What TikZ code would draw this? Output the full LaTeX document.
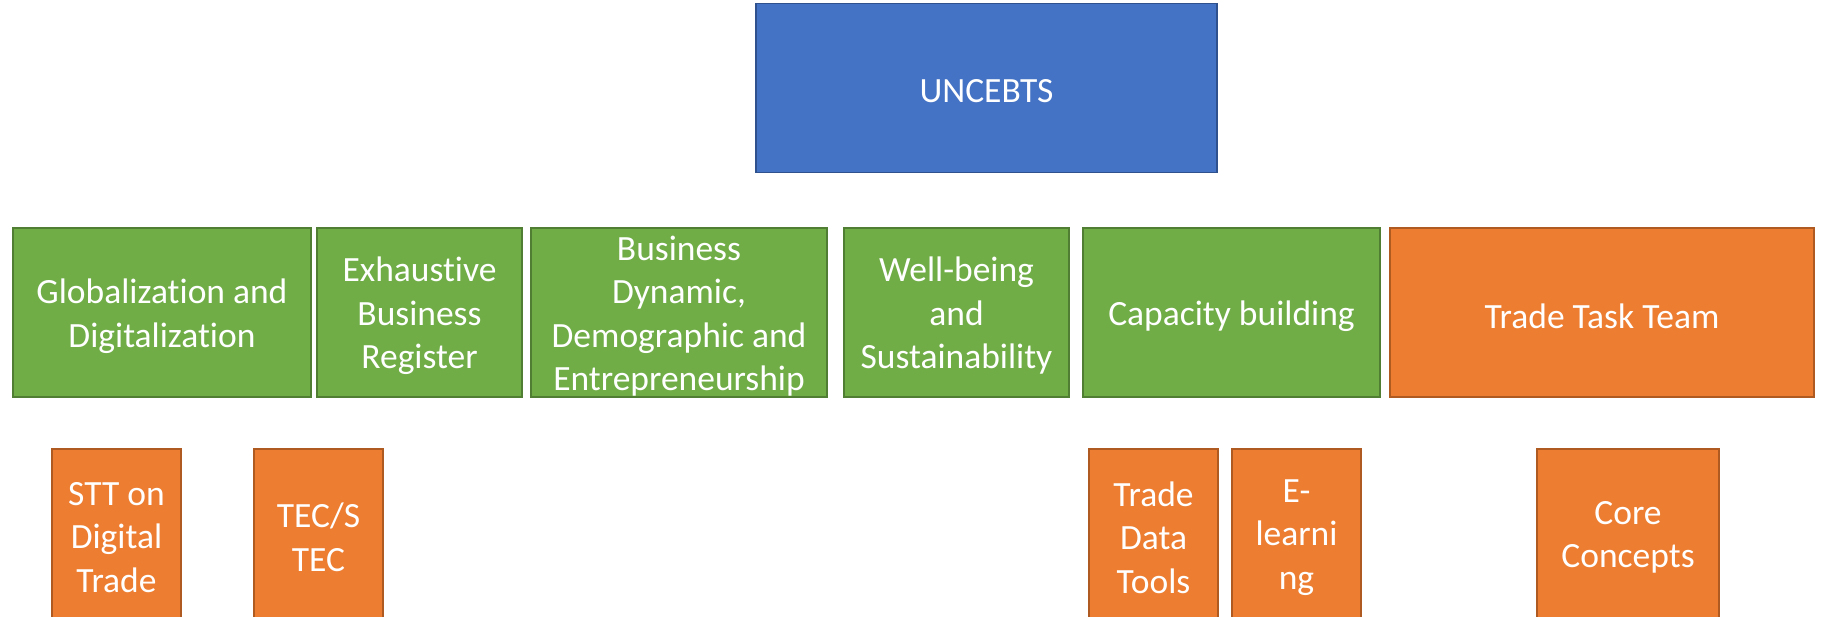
\documentclass[tikz,border=0pt]{standalone}
\usepackage{fontspec}
\setmainfont{Carlito}[Ligatures=NoCommon]
\definecolor{cblue}{HTML}{4472C4}
\definecolor{cbluedk}{HTML}{2F528F}
\definecolor{cgreen}{HTML}{70AD47}
\definecolor{cgreendk}{HTML}{507E32}
\definecolor{corange}{HTML}{ED7D31}
\definecolor{corangedk}{HTML}{AE5A21}
\begin{document}
\begin{tikzpicture}[x=1pt,y=-1pt,
  boxbase/.style={rectangle, inner sep=0pt, outer sep=0pt, line width=1.2pt},
  bluebox/.style={boxbase, fill=cblue, draw=cbluedk},
  greenbox/.style={boxbase, fill=cgreen, draw=cgreendk},
  orangebox/.style={boxbase, fill=corange, draw=corangedk},
  boxtext/.style={inner sep=0pt, align=center, text=white, yshift=-3.5pt,
    font=\fontsize{35.5}{43.5}\selectfont}]
\useasboundingbox (0,0) rectangle (1822,617);
\begin{scope}
\clip (0,0) rectangle (1822,617);
\node[bluebox, minimum width=461pt, minimum height=169pt] (top) at (986.5,88) {};
\node[boxtext] (top-t) at (top.center) {UNCEBTS};
% green row
\node[greenbox, minimum width=298pt, minimum height=169pt] (glob) at (162,312.5) {};
\node[boxtext] (glob-t) at (glob.center) {Globalization and\\Digitalization};
\node[greenbox, minimum width=205pt, minimum height=169pt] (exh) at (419.5,312.5) {};
\node[boxtext] (exh-t) at (exh.center) {Exhaustive\\Business\\Register};
\node[greenbox, minimum width=296pt, minimum height=169pt] (bdyn) at (679,312.5) {};
\node[boxtext] (bdyn-t) at (bdyn.center) {Business\\Dynamic,\\Demographic and\\Entrepreneurship};
\node[greenbox, minimum width=225pt, minimum height=169pt] (well) at (956.5,312.5) {};
\node[boxtext] (well-t) at (well.center) {Well-being\\and\\Sustainability};
\node[greenbox, minimum width=297pt, minimum height=169pt] (cap) at (1231.5,312.5) {};
\node[boxtext] (cap-t) at (cap.center) {Capacity building};
\node[orangebox, minimum width=424pt, minimum height=169pt] (ttt) at (1602,312.5) {};
\node[boxtext] (ttt-t) at (ttt.center) {Trade Task Team};
% bottom row
\node[orangebox, minimum width=129pt, minimum height=170pt] (stt) at (116.5,534) {};
\node[boxtext] (stt-t) at (stt.center) {STT on\\Digital\\Trade};
\node[orangebox, minimum width=129pt, minimum height=170pt] (tec) at (318.5,534) {};
\node[boxtext] (tec-t) at (tec.center) {TEC/S\\TEC};
\node[orangebox, minimum width=129pt, minimum height=170pt] (tdt) at (1153.5,534) {};
\node[boxtext] (tdt-t) at (tdt.center) {Trade\\Data\\Tools};
\node[orangebox, minimum width=129pt, minimum height=170pt] (elearn) at (1296.5,534) {};
\node[boxtext] (elearn-t) at (elearn.center) {E-\\learni\\ng};
\node[orangebox, minimum width=182pt, minimum height=170pt] (core) at (1628,534) {};
\node[boxtext] (core-t) at (core.center) {Core\\Concepts};
\end{scope}
\end{tikzpicture}
\end{document}
